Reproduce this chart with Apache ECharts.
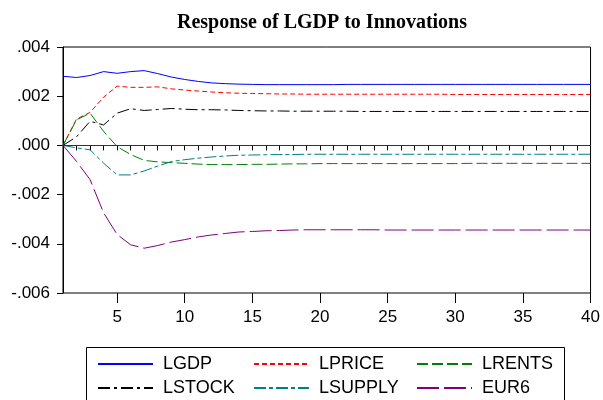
<!DOCTYPE html>
<html>
<head>
<meta charset="utf-8">
<script src="https://cdn.jsdelivr.net/npm/echarts@6/dist/echarts.min.js"></script>
<style>
  html, body { margin: 0; padding: 0; background: #fff; }
  #chart { width: 603px; height: 400px; }
</style>
</head>
<body>
<div id="chart"></div>
<script>
// 期数
const periods = ['1','2','3','4','5','6','7','8','9','10','11','12','13','14','15','16','17','18','19','20',
  '21','22','23','24','25','26','27','28','29','30','31','32','33','34','35','36','37','38','39','40'];

// 各冲击的脉冲响应
const lgdp = [0.00281, 0.00276, 0.00284, 0.00300, 0.00293, 0.00300, 0.00304, 0.00292, 0.00278, 0.00268,
  0.00260, 0.00254, 0.00251, 0.00249, 0.00248, 0.00247, 0.00247, 0.00247, 0.00247, 0.00247,
  0.00247, 0.00248, 0.00248, 0.00248, 0.00248, 0.00248, 0.00248, 0.00248, 0.00248, 0.00248,
  0.00248, 0.00248, 0.00248, 0.00248, 0.00248, 0.00248, 0.00248, 0.00248, 0.00248, 0.00248];
const lprice = [0, 0.00107, 0.00134, 0.00196, 0.00241, 0.00236, 0.00236, 0.00238, 0.00230, 0.00225,
  0.00221, 0.00217, 0.00214, 0.00212, 0.00211, 0.00210, 0.00209, 0.00209, 0.00208, 0.00208,
  0.00208, 0.00208, 0.00208, 0.00208, 0.00208, 0.00208, 0.00208, 0.00208, 0.00208, 0.00207,
  0.00207, 0.00207, 0.00207, 0.00207, 0.00207, 0.00207, 0.00207, 0.00207, 0.00207, 0.00207];
const lrents = [0, 0.00104, 0.00131, 0.00057, -0.00005, -0.00037, -0.00061, -0.00067, -0.00070, -0.00073,
  -0.00076, -0.00078, -0.00078, -0.00078, -0.00077, -0.00077, -0.00076, -0.00075, -0.00075, -0.00074,
  -0.00074, -0.00074, -0.00074, -0.00074, -0.00074, -0.00074, -0.00074, -0.00074, -0.00074, -0.00074,
  -0.00073, -0.00073, -0.00073, -0.00073, -0.00073, -0.00073, -0.00073, -0.00073, -0.00073, -0.00073];
const lstock = [0, 0.00035, 0.00098, 0.00083, 0.00131, 0.00149, 0.00142, 0.00146, 0.00150, 0.00147,
  0.00145, 0.00145, 0.00144, 0.00142, 0.00141, 0.00140, 0.00140, 0.00139, 0.00139, 0.00139,
  0.00139, 0.00139, 0.00138, 0.00138, 0.00138, 0.00138, 0.00138, 0.00138, 0.00138, 0.00138,
  0.00138, 0.00138, 0.00138, 0.00138, 0.00138, 0.00138, 0.00138, 0.00138, 0.00138, 0.00138];
const lsupply = [0, -0.00010, -0.00018, -0.00072, -0.00120, -0.00120, -0.00104, -0.00084, -0.00066, -0.00058,
  -0.00052, -0.00047, -0.00043, -0.00040, -0.00039, -0.00038, -0.00037, -0.00037, -0.00036, -0.00036,
  -0.00036, -0.00036, -0.00036, -0.00036, -0.00036, -0.00036, -0.00036, -0.00036, -0.00036, -0.00036,
  -0.00036, -0.00036, -0.00036, -0.00036, -0.00036, -0.00036, -0.00036, -0.00036, -0.00036, -0.00036];
const eur6 = [0, -0.00065, -0.00139, -0.00274, -0.00362, -0.00404, -0.00418, -0.00407, -0.00393, -0.00383,
  -0.00372, -0.00364, -0.00358, -0.00352, -0.00350, -0.00347, -0.00346, -0.00344, -0.00343, -0.00343,
  -0.00343, -0.00343, -0.00343, -0.00343, -0.00344, -0.00344, -0.00344, -0.00344, -0.00344, -0.00344,
  -0.00344, -0.00344, -0.00344, -0.00344, -0.00344, -0.00344, -0.00344, -0.00344, -0.00344, -0.00344];

const names = ['LGDP', 'LPRICE', 'LRENTS', 'LSTOCK', 'LSUPPLY', 'EUR6'];
const values = [lgdp, lprice, lrents, lstock, lsupply, eur6];

// 线型
const colors = ['#0000ff', '#ff0000', '#008000', '#000000', '#008080', '#800080'];
const dashes = ['solid', [5, 3], [11, 4], [12, 4, 3, 4], [12, 3, 4, 3], [22, 5]];
// 图例位置（两行三列）
const legendPos = [[97, 355], [253, 355], [416, 355], [97, 379], [253, 379], [416, 379]];

const chart = echarts.init(document.getElementById('chart'));

const isMajor = (i) => (i + 1) % 5 === 0;

const series = names.map((n, i) => ({
  name: n,
  type: 'line',
  data: values[i],
  symbol: 'none',
  lineStyle: { color: colors[i], width: 1, type: dashes[i] },
  itemStyle: { color: colors[i] },
  animation: false
}));

// 零线
series[0].markLine = {
  silent: true,
  symbol: ['none', 'none'],
  label: { show: false },
  lineStyle: { color: '#333', width: 1, type: 'solid' },
  data: [{ yAxis: 0 }]
};

// 每个图例单独定位，只保留线段
const legends = names.map((n, i) => ({
  data: [n],
  left: legendPos[i][0],
  top: legendPos[i][1],
  padding: 0,
  itemWidth: 55,
  itemHeight: 14,
  itemStyle: { opacity: 0 },
  textStyle: { fontFamily: 'Liberation Sans', fontSize: 18, color: '#000', padding: [0, 0, 0, 5] }
}));

const option = {
  animation: false,
  backgroundColor: '#fff',
  title: {
    text: 'Response of LGDP to Innovations',
    left: 322,
    textAlign: 'center',
    top: 13,
    padding: 0,
    textStyle: { fontFamily: 'Liberation Serif', fontWeight: 'bold', fontSize: 20, color: '#000' }
  },
  legend: legends,
  graphic: [{
    type: 'rect',
    shape: { x: 86.5, y: 347.5, width: 478, height: 70 },
    style: { fill: 'none', stroke: '#000', lineWidth: 1 },
    silent: true
  }],
  grid: {
    left: 63,
    right: 11,
    top: 47,
    bottom: 107,
    show: true,
    borderColor: '#000',
    borderWidth: 1
  },
  xAxis: [
    {
      type: 'category',
      position: 'bottom',
      data: periods,
      boundaryGap: false,
      axisLine: { lineStyle: { color: '#000', width: 1 } },
      axisTick: { interval: 0, length: 5, lineStyle: { color: '#000' } },
      axisLabel: { show: false },
      splitLine: { show: false }
    },
    {
      type: 'category',
      position: 'bottom',
      data: periods,
      boundaryGap: false,
      axisLine: { show: false },
      axisTick: { interval: isMajor, length: 10, lineStyle: { color: '#000' } },
      axisLabel: {
        interval: isMajor,
        margin: 16,
        fontFamily: 'Liberation Sans',
        fontSize: 17,
        color: '#000'
      },
      splitLine: { show: false }
    }
  ],
  yAxis: {
    type: 'value',
    min: -0.006,
    max: 0.004,
    interval: 0.002,
    axisLine: { show: true, lineStyle: { color: '#000', width: 1 } },
    axisTick: { show: true, length: 6, lineStyle: { color: '#000' } },
    splitLine: { show: false },
    axisLabel: {
      margin: 13,
      fontFamily: 'Liberation Sans',
      fontSize: 17,
      color: '#000',
      formatter: (v) => v.toFixed(3).replace('0.', '.')
    }
  },
  series: series
};

chart.setOption(option);
</script>
</body>
</html>
